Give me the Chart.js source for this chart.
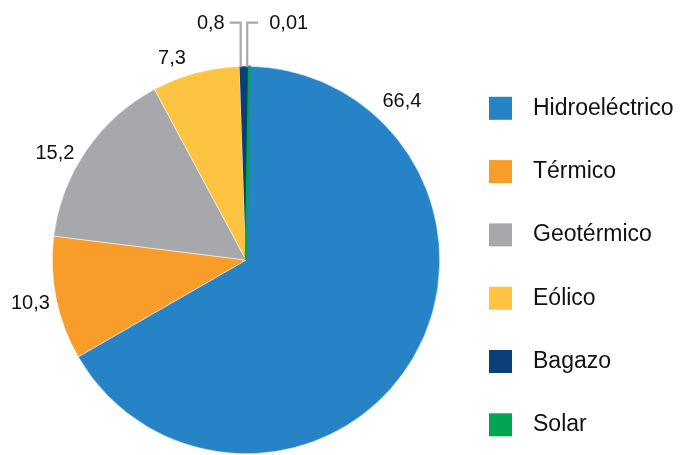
<!DOCTYPE html>
<html>
<head>
<meta charset="utf-8">
<script src="https://cdn.jsdelivr.net/npm/chart.js@4"></script>
<style>
  html, body { margin: 0; padding: 0; background: #fff; }
  #chart { display: block; }
</style>
</head>
<body>
<canvas id="chart" width="681" height="455"></canvas>
<script>
const categorias = ["Hidroeléctrico", "Térmico", "Geotérmico", "Eólico", "Bagazo", "Solar"];
const valores = [66.4, 10.3, 15.2, 7.3, 0.8, 0.01];
const colores = ["#2683c6", "#f99d2a", "#a7a8ab", "#fec340", "#0b3f7a", "#00a651"];

const FONT = '"Liberation Sans", Arial, sans-serif';

// etiquetas de valor: grandes junto al sector, pequeñas con línea guía hacia arriba
const valueLabels = {
  id: "valueLabels",
  afterDatasetsDraw(chart, args, opts) {
    const ctx = chart.ctx;
    const arcs = chart.getDatasetMeta(0).data;
    const vals = chart.data.datasets[0].data;
    ctx.save();
    ctx.font = "20px " + FONT;
    ctx.fillStyle = "#111";
    ctx.textBaseline = "middle";
    arcs.forEach((arc, i) => {
      const text = String(vals[i]).replace(".", ",");
      const mid = (arc.startAngle + arc.endAngle) / 2;
      const place = opts.place[i];
      if (place.leader) {
        const x0 = arc.x + arc.outerRadius * Math.cos(mid) + place.dx;
        const y0 = arc.y - arc.outerRadius + 1;
        const x1 = x0 + place.dir * 11;
        ctx.strokeStyle = "#a7a9ac";
        ctx.lineWidth = 2.2;
        ctx.beginPath();
        ctx.moveTo(x0, y0);
        ctx.lineTo(x0, opts.elbowY);
        ctx.lineTo(x1, opts.elbowY);
        ctx.stroke();
        ctx.textAlign = place.dir < 0 ? "right" : "left";
        ctx.fillText(text, x1 + place.dir * place.gap, opts.elbowY + 0.5);
      } else {
        const a = mid + place.da * Math.PI / 180;
        ctx.textAlign = "center";
        ctx.fillText(text, arc.x + place.r * Math.cos(a), arc.y + place.r * Math.sin(a));
      }
    });
    ctx.restore();
  }
};

const sideLegend = {
  id: "sideLegend",
  afterDraw(chart, args, opts) {
    const ctx = chart.ctx;
    const ds = chart.data.datasets[0];
    ctx.save();
    ctx.font = "23px " + FONT;
    ctx.textBaseline = "middle";
    ctx.textAlign = "left";
    chart.data.labels.forEach((lab, i) => {
      const cy = opts.top + i * opts.step;
      ctx.fillStyle = ds.backgroundColor[i];
      ctx.fillRect(opts.x, cy - 11.5, 23, 23);
      ctx.fillStyle = "#111";
      ctx.fillText(lab, opts.x + 44, cy);
    });
    ctx.restore();
  }
};

new Chart(document.getElementById("chart"), {
  type: "pie",
  data: {
    labels: categorias,
    datasets: [
      {
        data: valores,
        backgroundColor: colores,
        borderColor: ["#fff", "#fff", "#fff", "#fff", "#fff", "#00a651"],
        borderWidth: [0.5, 0.5, 0.5, 0.5, 0, 2.6],
        hoverOffset: 0,
        offset: 0,
      },
    ],
  },
  options: {
    responsive: false,
    animation: false,
    events: [],
    rotation: 1,
    layout: {
      padding: { left: 51, right: 240, top: 65, bottom: 0 },
    },
    plugins: {
      legend: { display: false },
      tooltip: { enabled: false },
      valueLabels: {
        elbowY: 22.7,
        place: [
          { da: -75.9, r: 222 },
          { da: 0, r: 220 },
          { da: -5.2, r: 219 },
          { da: -5.1, r: 215 },
          { leader: true, dx: -3.7, dir: -1, gap: 5 },
          { leader: true, dx: -2.1, dir: 1, gap: 11 },
        ],
      },
      sideLegend: { x: 489, top: 108.3, step: 63.3 },
    },
  },
  plugins: [valueLabels, sideLegend],
});
</script>
</body>
</html>
